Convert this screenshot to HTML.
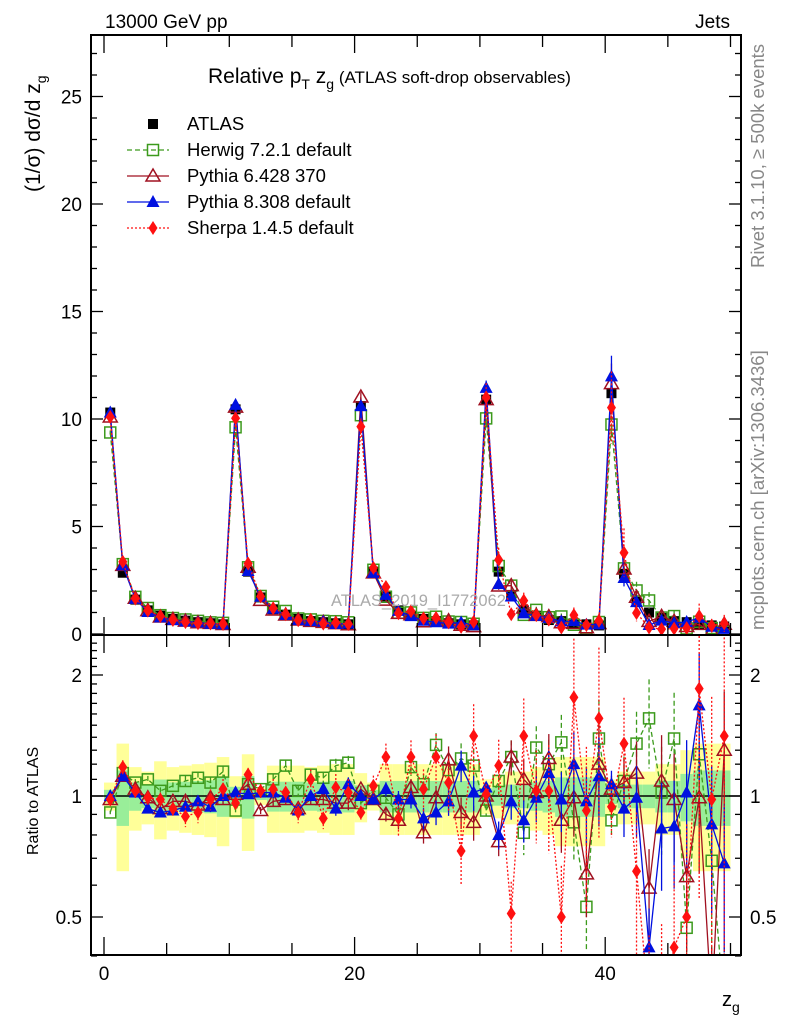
<!DOCTYPE html>
<html><head><meta charset="utf-8"><style>
html,body{margin:0;padding:0;background:#fff;overflow:hidden;width:786px;height:1024px;}
svg{display:block;font-family:"Liberation Sans",sans-serif;}
</style></head><body>
<svg id="c" width="786" height="1024" viewBox="0 0 786 1024">
<defs>
<clipPath id="cm"><rect x="91" y="35" width="650" height="600"/></clipPath>
<clipPath id="cr"><rect x="91" y="635" width="650" height="320"/></clipPath>
</defs>
<g id="bands" clip-path="url(#cr)"></g>
<g id="marks"></g>
<g id="axes"></g>
<text x="105" y="28" font-size="19">13000 GeV pp</text>
<text x="730" y="28" font-size="19" text-anchor="end">Jets</text>
<text x="208" y="83" font-size="21">Relative p<tspan font-size="14" dy="6">T</tspan><tspan dy="-6"> z</tspan><tspan font-size="14" dy="6">g</tspan><tspan dy="-6" font-size="17"> (ATLAS soft-drop observables)</tspan></text>
<text transform="translate(40,192) rotate(-90)" font-size="21">(1/σ) dσ/d z<tspan font-size="14" dy="6">g</tspan></text>
<text transform="translate(38,855) rotate(-90)" font-size="16">Ratio to ATLAS</text>
<text x="722" y="1006" font-size="20">z<tspan font-size="14" dy="6">g</tspan></text>
<text transform="translate(764,268) rotate(-90)" font-size="18.5" fill="#888">Rivet 3.1.10, ≥ 500k events</text>
<text transform="translate(764,630) rotate(-90)" font-size="18.5" fill="#888">mcplots.cern.ch [arXiv:1306.3436]</text>
<text x="331" y="606" font-size="16.5" fill="#aaa">ATLAS_2019_I1772062</text>
<g id="legend"></g>
</svg>
<script>
const bins = Array.from({length:50},(_,i)=>i+0.5);
const atlas = [10.3,2.85,1.6,1.1,0.85,0.7,0.62,0.55,0.5,0.45,
 10.45,2.9,1.7,1.15,0.9,0.7,0.6,0.55,0.5,0.45,
 10.6,2.9,1.75,1.1,0.85,0.7,0.6,0.5,0.45,0.4,
 10.9,2.9,1.8,1.1,0.85,0.65,0.6,0.5,0.45,0.4,
 11.2,2.8,1.5,1.0,0.75,0.6,0.55,0.45,0.4,0.35];
const rHerwig = [0.91,1.14,1.08,1.10,1.03,1.06,1.09,1.11,1.08,1.15,0.92,1.07,1.04,1.10,1.19,1.03,1.13,1.11,1.19,1.21,0.96,1.03,0.99,0.90,1.18,1.07,1.34,1.16,1.24,1.19,0.92,1.09,1.25,0.81,1.32,1.20,1.36,0.86,0.53,1.39,0.87,1.09,1.35,1.56,1.02,1.39,0.47,1.27,0.69,0.3];
const rPy6 = [0.98,1.12,1.04,0.99,0.93,0.97,0.97,0.95,0.99,0.98,1.01,1.07,0.92,0.97,0.98,0.93,0.98,0.98,0.96,0.96,1.04,0.98,0.90,0.87,1.05,0.81,0.99,1.23,0.91,0.86,1.0,0.77,1.25,1.10,1.02,1.24,0.87,0.99,0.64,1.20,1.04,1.08,1.14,0.59,1.09,0.98,0.63,0.99,0.3,1.30];
const rPy8 = [1.0,1.12,1.02,0.93,0.91,0.92,0.94,0.97,0.94,1.0,1.02,1.01,1.02,1.02,0.99,0.92,1.0,1.04,0.93,1.07,1.0,0.98,1.04,0.98,0.98,0.88,0.91,0.97,1.19,1.02,1.05,0.80,0.97,0.87,0.99,1.14,0.98,1.20,0.97,1.12,1.07,0.93,0.99,0.42,0.83,0.84,1.02,1.68,0.85,0.68];
const rSherpa = [0.98,1.18,1.03,0.99,0.98,0.93,0.89,0.91,0.98,1.04,0.96,1.13,1.03,1.04,1.02,0.91,1.10,0.88,1.05,1.02,0.91,1.06,1.25,0.88,1.25,1.04,1.25,1.08,0.73,1.41,1.01,1.19,0.51,1.41,1.03,1.03,0.50,1.76,0.92,1.56,0.94,1.35,0.65,0.3,0.3,0.42,0.50,1.85,0.98,1.41];
const totErr = [0.08,0.35,0.18,0.15,0.22,0.18,0.19,0.2,0.21,0.25,0.12,0.27,0.05,0.19,0.19,0.19,0.18,0.19,0.2,0.2,0.14,0.08,0.2,0.2,0.2,0.2,0.2,0.2,0.2,0.2,0.1,0.12,0.15,0.15,0.18,0.2,0.25,0.25,0.25,0.25,0.1,0.15,0.15,0.15,0.2,0.2,0.3,0.35,0.35,0.35];
const mcErr = [0.01,0.02,0.02,0.02,0.02,0.02,0.03,0.03,0.03,0.03,0.01,0.02,0.02,0.03,0.03,0.03,0.03,0.03,0.04,0.04,0.02,0.03,0.04,0.05,0.05,0.06,0.07,0.08,0.09,0.1,0.03,0.08,0.1,0.12,0.13,0.15,0.17,0.2,0.22,0.25,0.08,0.15,0.2,0.25,0.3,0.3,0.35,0.35,0.4,0.4];
const yTicks=[0,5,10,15,20,25];
const rTicks=[0.5,1,2];
const xTicks=[0,20,40];

const NS="http://www.w3.org/2000/svg";
function mk(tag,attrs,parent){const e=document.createElementNS(NS,tag);for(const k in attrs)e.setAttribute(k,attrs[k]);parent.appendChild(e);return e;}
const X=v=>104+12.53*v;
const Y=v=>634-21.5*v;
const R=r=>796-121*Math.log2(r);
const L=91,Rt=741,T=35,M=635,B=955;
const axes=document.getElementById('axes'),marks=document.getElementById('marks'),bands=document.getElementById('bands'),legend=document.getElementById('legend');

bins.forEach((b,i)=>{
  const e=totErr[i],g=e*0.45;
  const y=mk('rect',{x:X(b-0.5),y:R(1+e),width:12.53,height:R(1-e)-R(1+e),fill:'#ffff99'},bands);
  
  
  const gr=mk('rect',{x:X(b-0.5),y:R(1+g),width:12.53,height:R(1-g)-R(1+g),fill:'#99ee99'},bands);
  
  
});
const one=mk('line',{x1:L,x2:Rt,y1:R(1),y2:R(1),stroke:'#000','stroke-width':1.5},bands);



function marker(type,x,y,color,g){
  let e;
  if(type==='sqf') e=mk('rect',{x:x-5,y:y-5,width:10,height:10,fill:'#000'},g);
  else if(type==='sqo') e=mk('rect',{x:x-5.5,y:y-5.5,width:11,height:11,fill:'none',stroke:color,'stroke-width':1.5},g);
  else if(type==='tro') e=mk('polygon',{points:`${x},${y-7} ${x-7},${y+5} ${x+7},${y+5}`,fill:'none',stroke:color,'stroke-width':1.5},g);
  else if(type==='trf') e=mk('polygon',{points:`${x},${y-7} ${x-6.5},${y+5} ${x+6.5},${y+5}`,fill:color},g);
  else e=mk('polygon',{points:`${x},${y-7} ${x-4.5},${y} ${x},${y+7} ${x+4.5},${y}`,fill:color},g);
  return e;
}
const series=[
 {name:'herwig',ratio:rHerwig,color:'#3c9a1c',dash:'5,3',m:'sqo',ef:1},
 {name:'pythia6',ratio:rPy6,color:'#a01020',dash:'',m:'tro',ef:1},
 {name:'pythia8',ratio:rPy8,color:'#0010e0',dash:'',m:'trf',ef:1},
 {name:'sherpa',ratio:rSherpa,color:'#ff1010',dash:'2,2',m:'dia',ef:2}
];
const ga=mk('g',{'clip-path':'url(#cm)'},marks);
bins.forEach((b,i)=>{const p=marker('sqf',X(b),Y(atlas[i]),'#000',ga);
 
 });
series.forEach(s=>{
  ['main','ratio'].forEach(panel=>{
    const g=mk('g',{'clip-path':panel==='main'?'url(#cm)':'url(#cr)'},marks);
    const f=i=>panel==='main'?Y(atlas[i]*s.ratio[i]):R(s.ratio[i]);
    const fe=(i,sg)=>{const r=s.ratio[i]*(1+sg*mcErr[i]*s.ef);const rr=Math.max(r,0.05);return panel==='main'?Y(atlas[i]*rr):R(rr);};
    const pts=bins.map((b,i)=>X(b)+','+f(i)).join(' ');
    const pl=mk('polyline',{points:pts,fill:'none',stroke:s.color,'stroke-width':1.3,'stroke-dasharray':s.dash},g);
    
    
    bins.forEach((b,i)=>{
      const eb=mk('line',{x1:X(b),x2:X(b),y1:fe(i,1),y2:fe(i,-1),stroke:s.color,'stroke-width':1.3,'stroke-dasharray':s.dash},g);
      
      
      const p=marker(s.m,X(b),f(i),s.color,g);
      
      
    });
  });
});
[[T,M],[M,B]].forEach(([t,b])=>{const r=mk('rect',{x:L,y:t,width:Rt-L,height:b-t,fill:'none',stroke:'#000','stroke-width':2},axes);
 
 });
for(let v=0;v<=27;v++){const len=v%5===0?12:6;
 mk('line',{x1:L,x2:L+len,y1:Y(v),y2:Y(v),stroke:'#000','stroke-width':1.3},axes);
 mk('line',{x1:Rt,x2:Rt-len,y1:Y(v),y2:Y(v),stroke:'#000','stroke-width':1.3},axes);}
yTicks.forEach(v=>{const t=mk('text',{x:82,y:Y(v)+7,'font-size':19,'text-anchor':'end'},axes);t.textContent=v;
 
 });
const rminor=[0.4,0.5,0.6,0.7,0.8,0.9,1,1.1,1.2,1.3,1.4,1.5,1.6,1.7,1.8,1.9,2,2.1,2.2,2.3,2.4];
rminor.forEach(v=>{const len=rTicks.includes(v)?12:6;
 mk('line',{x1:L,x2:L+len,y1:R(v),y2:R(v),stroke:'#000','stroke-width':1.3},axes);
 mk('line',{x1:Rt,x2:Rt-len,y1:R(v),y2:R(v),stroke:'#000','stroke-width':1.3},axes);});
rTicks.forEach(v=>{
 const t=mk('text',{x:82,y:R(v)+7,'font-size':19,'text-anchor':'end'},axes);t.textContent=v;
 
 
 const t2=mk('text',{x:750,y:R(v)+7,'font-size':19},axes);t2.textContent=v;
 
 });
for(let v=0;v<=50;v+=5){const len=v%20===0?18:12;
 [[M,-1],[M,1],[B,-1],[T,1]].forEach(([y0,d])=>mk('line',{x1:X(v),x2:X(v),y1:y0,y2:y0+d*len,stroke:'#000','stroke-width':1.3},axes));}
xTicks.forEach(v=>{const t=mk('text',{x:X(v),y:980,'font-size':19,'text-anchor':'middle'},axes);t.textContent=v;
 
 });
const leg=[['ATLAS','sqf','#000',''],['Herwig 7.2.1 default','sqo','#3c9a1c','5,3'],['Pythia 6.428 370','tro','#a01020',''],['Pythia 8.308 default','trf','#0010e0',''],['Sherpa 1.4.5 default','dia','#ff1010','2,2']];
leg.forEach((l,i)=>{const y=124+26*i;
 const g=mk('g',{},legend);
 
 
 if(i>0) mk('line',{x1:127,x2:169,y1:y,y2:y,stroke:l[2],'stroke-width':1.3,'stroke-dasharray':l[3]},g);
 marker(l[1],153,y,l[2],g);
 const t=mk('text',{x:187,y:y+6,'font-size':18.5},g);t.textContent=l[0];});
</script>
</body></html>
